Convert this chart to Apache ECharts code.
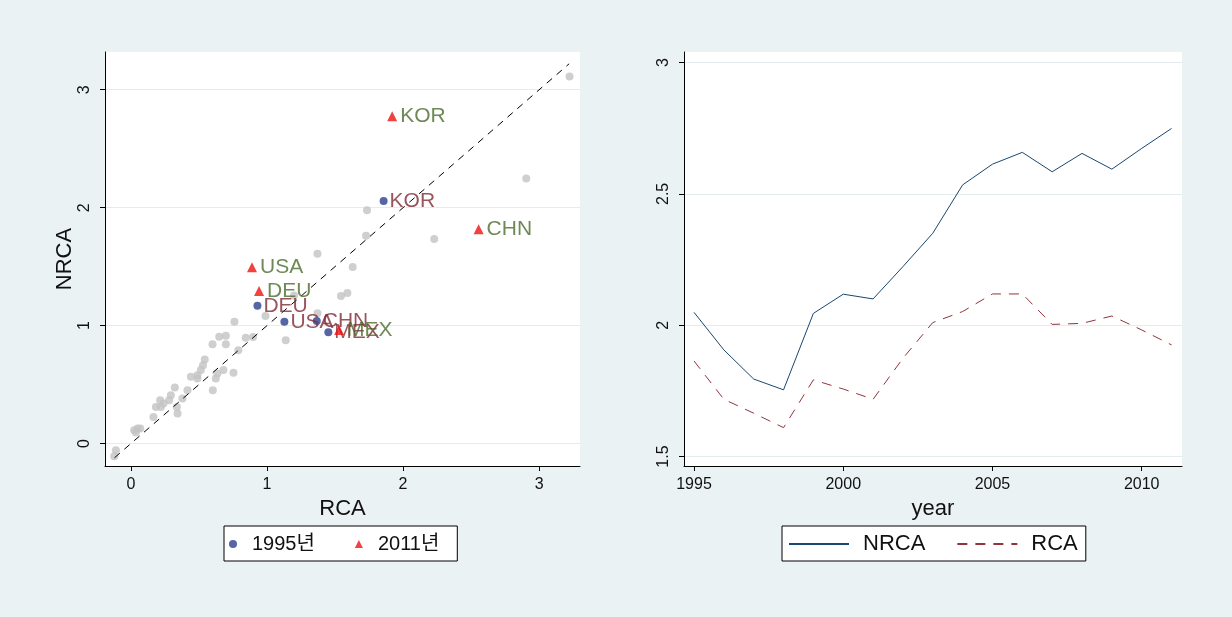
<!DOCTYPE html>
<html><head><meta charset="utf-8">
<script src="https://cdn.jsdelivr.net/npm/echarts@6/dist/echarts.min.js"></script>
<style>html,body{margin:0;padding:0;background:#EAF2F3;} #c{width:1232px;height:617px;}</style>
</head><body><div id="c"></div>
<script>
// ---- data ----
const countries1995 = ['KOR', 'DEU', 'USA', 'CHN', 'MEX'];
const rca1995  = [1.857, 0.930, 1.128, 1.366, 1.451];
const nrca1995 = [2.057, 1.168, 1.032, 1.040, 0.945];

const countries2011 = ['KOR', 'CHN', 'USA', 'DEU', 'MEX'];
const rca2011  = [1.920, 2.555, 0.890, 0.942, 1.530];
const nrca2011 = [2.775, 1.817, 1.494, 1.293, 0.962];

const otherRCA  = [3.223, 2.905, 2.229, 1.735, 1.728, 1.371, 1.630, 1.591, 1.544, 1.199, 1.371, 1.138, 0.989, 0.761, 0.698, 0.649, 0.600, 0.698, 0.844, 0.898, 0.790, 0.754, 0.680, 0.636, 0.624, 0.602, 0.543, 0.530, 0.514, 0.489, 0.441, 0.489, 0.416, 0.323, 0.379, 0.343, 0.338, 0.294, 0.281, 0.215, 0.184, 0.166, 0.220, 0.240, 0.069, 0.049, 0.024, 0.037, -0.110, -0.122];
const otherNRCA = [3.113, 2.247, 1.735, 1.978, 1.763, 1.610, 1.497, 1.276, 1.251, 1.256, 1.104, 0.877, 1.081, 1.033, 0.914, 0.905, 0.843, 0.843, 0.897, 0.903, 0.792, 0.600, 0.623, 0.594, 0.552, 0.453, 0.713, 0.665, 0.623, 0.580, 0.566, 0.552, 0.453, 0.475, 0.382, 0.255, 0.311, 0.410, 0.368, 0.368, 0.311, 0.226, 0.311, 0.340, 0.127, 0.127, 0.113, 0.095, -0.057, -0.108];

const diagEnds = [-0.12, 3.22];

const years    = [1995, 1996, 1997, 1998, 1999, 2000, 2001, 2002, 2003, 2004, 2005, 2006, 2007, 2008, 2009, 2010, 2011];
const nrcaLine = [2.049, 1.906, 1.795, 1.754, 2.045, 2.118, 2.100, 2.223, 2.350, 2.534, 2.613, 2.658, 2.584, 2.654, 2.594, 2.673, 2.749];
const rcaLine  = [1.864, 1.718, 1.665, 1.610, 1.792, 1.757, 1.718, 1.874, 2.010, 2.052, 2.119, 2.119, 2.003, 2.007, 2.035, 1.982, 1.925];

const scatterTicks = [0, 1, 2, 3];
const rightYTicks  = [1.5, 2, 2.5, 3];
const yearTicks    = [1995, 2000, 2005, 2010];

// ---- chart ----
const FONT = "'Liberation Sans', Arial, 'Noto Sans CJK KR', sans-serif";
const zip3 = (a, b, c) => a.map((v, i) => c ? [v, b[i], c[i]] : [v, b[i]]);

function axisBase(ticks, extra) {
  return Object.assign({
    type: 'value',
    axisLine: { show: true, onZero: false, lineStyle: { color: '#000', width: 1 } },
    axisTick: { show: true, length: 5, inside: false, customValues: ticks, lineStyle: { color: '#000', width: 1 } },
    axisLabel: { customValues: ticks, color: '#111', fontSize: 16, fontFamily: FONT, margin: 11,
                 formatter: v => String(v) },
    splitLine: { show: false },
    nameTextStyle: { color: '#111', fontSize: 22, fontFamily: FONT },
    nameLocation: 'middle'
  }, extra);
}

const chart = echarts.init(document.getElementById('c'), null, { renderer: 'canvas' });
chart.setOption({
  backgroundColor: '#EAF2F3',
  animation: false,
  grid: [
    { left: 105, top: 52, width: 475, height: 414, show: true, backgroundColor: '#fff', borderWidth: 0, containLabel: false },
    { left: 684, top: 52, width: 498, height: 414, show: true, backgroundColor: '#fff', borderWidth: 0, containLabel: false }
  ],
  xAxis: [
    axisBase(scatterTicks, { gridIndex: 0, min: -0.19, max: 3.30, name: 'RCA', nameGap: 26 }),
    axisBase(yearTicks, { gridIndex: 1, min: 1994.665, max: 2011.35, name: 'year', nameGap: 26 })
  ],
  yAxis: [
    axisBase(scatterTicks, { gridIndex: 0, min: -0.19, max: 3.32, name: 'NRCA', nameGap: 28,
      axisLabel: { customValues: scatterTicks, rotate: 90, color: '#111', fontSize: 16, fontFamily: FONT, margin: 12, formatter: v => String(v) },
      splitLine: { show: true, lineStyle: { color: '#e4ecee', width: 1 } } }),
    axisBase(rightYTicks, { gridIndex: 1, min: 1.464, max: 3.04,
      axisLabel: { customValues: rightYTicks, rotate: 90, color: '#111', fontSize: 16, fontFamily: FONT, margin: 12, formatter: v => String(v) },
      splitLine: { show: true, lineStyle: { color: '#e4ecee', width: 1 } } })
  ],
  legend: [
    {
      data: ['1995년', '2011년'],
      left: 224, top: 526,
      orient: 'horizontal',
      backgroundColor: '#fff', borderColor: '#000', borderWidth: 1, borderRadius: 0,
      padding: [8, 18, 7, 5],
      itemGap: 40, itemWidth: 8, itemHeight: 8,
      selectedMode: false,
      textStyle: { fontSize: 20, fontFamily: FONT, color: '#111', padding: [0, 0, 0, 10] }
    },
    {
      data: ['NRCA', 'RCA'],
      left: 782, top: 526,
      orient: 'horizontal',
      backgroundColor: '#fff', borderColor: '#000', borderWidth: 1, borderRadius: 0,
      padding: [7, 8, 6, 6],
      itemGap: 31, itemWidth: 60, itemHeight: 14,
      selectedMode: false,
      itemStyle: { opacity: 0 },
      textStyle: { fontSize: 22, fontFamily: FONT, color: '#111', padding: [0, 0, 0, 9] }
    }
  ],
  series: [
    {
      name: 'others', type: 'scatter', xAxisIndex: 0, yAxisIndex: 0,
      data: zip3(otherRCA, otherNRCA),
      symbol: 'circle', symbolSize: 8,
      itemStyle: { color: '#c3c3c3' }, z: 2, silent: true
    },
    {
      name: 'diag', type: 'line', xAxisIndex: 0, yAxisIndex: 0,
      data: [[diagEnds[0], diagEnds[0]], [diagEnds[1], diagEnds[1]]],
      symbol: 'none', lineStyle: { color: '#000', width: 1, type: [7, 6] }, z: 3, silent: true
    },
    {
      name: '1995년', type: 'scatter', xAxisIndex: 0, yAxisIndex: 0,
      data: zip3(rca1995, nrca1995, countries1995),
      symbol: 'circle', symbolSize: 8,
      itemStyle: { color: '#2a3f8f' }, z: 4,
      label: { show: true, position: 'right', distance: 2, formatter: p => p.value[2],
               color: '#7f2a35', fontSize: 21, fontFamily: FONT }
    },
    {
      name: '2011년', type: 'scatter', xAxisIndex: 0, yAxisIndex: 0,
      data: zip3(rca2011, nrca2011, countries2011),
      symbol: 'triangle', symbolSize: 10,
      itemStyle: { color: '#ee1111' }, z: 5,
      label: { show: true, position: 'right', distance: 3, formatter: p => p.value[2],
               color: '#4a6b2a', fontSize: 21, fontFamily: FONT }
    },
    {
      name: 'NRCA', type: 'line', xAxisIndex: 1, yAxisIndex: 1,
      data: zip3(years, nrcaLine),
      symbol: 'none', showSymbol: false,
      lineStyle: { color: '#1a476f', width: 1 }, itemStyle: { color: '#1a476f' }
    },
    {
      name: 'RCA', type: 'line', xAxisIndex: 1, yAxisIndex: 1,
      data: zip3(years, rcaLine),
      symbol: 'none', showSymbol: false,
      lineStyle: { color: '#90353b', width: 1, type: [10, 8] }, itemStyle: { color: '#90353b' }
    }
  ]
});
</script>
</body></html>
